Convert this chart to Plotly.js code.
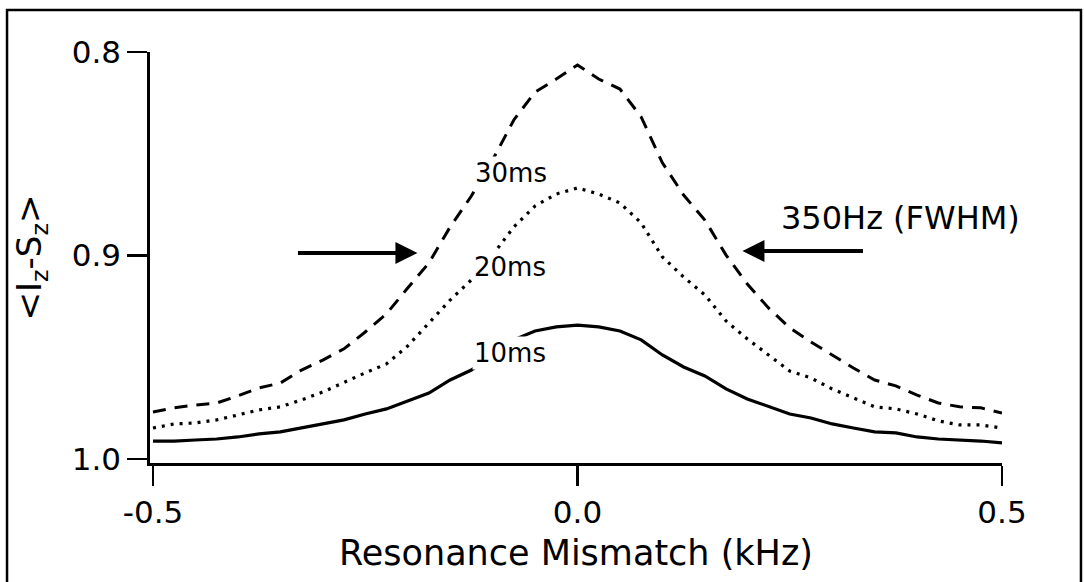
<!DOCTYPE html>
<html>
<head>
<meta charset="utf-8">
<script src="https://cdn.plot.ly/plotly-3.0.1.min.js"></script>
<style>
  html, body { margin: 0; padding: 0; background: #ffffff; }
  #chart { width: 1084px; height: 582px; }
</style>
</head>
<body>
<div id="chart"></div>
<script>
// Detuning from the resonance condition, kHz
const mismatch = [
  -0.5, -0.475, -0.45, -0.425, -0.4, -0.375, -0.35, -0.325, -0.3, -0.275,
  -0.25, -0.225, -0.2, -0.175, -0.15, -0.125, -0.1, -0.075, -0.05, -0.025,
  0.0,
  0.025, 0.05, 0.075, 0.1, 0.125, 0.15, 0.175, 0.2, 0.225, 0.25,
  0.275, 0.3, 0.325, 0.35, 0.375, 0.4, 0.425, 0.45, 0.475, 0.5
];

// <Iz-Sz> after 10 ms of contact
const signal10ms = [
  0.9912, 0.9912, 0.9907, 0.9902, 0.9892, 0.9877, 0.9867, 0.9848, 0.9828, 0.9808,
  0.9779, 0.9754, 0.9715, 0.9676, 0.9612, 0.9563, 0.9489, 0.9415, 0.9371, 0.9351,
  0.9342,
  0.9351, 0.9371, 0.9415, 0.9489, 0.9548, 0.9592, 0.9656, 0.9705, 0.9744, 0.9779,
  0.9799, 0.9828, 0.9848, 0.9867, 0.9872, 0.9892, 0.9902, 0.9907, 0.9912, 0.9921
];

// <Iz-Sz> after 20 ms of contact
const signal20ms = [
  0.9848, 0.9828, 0.9823, 0.9808, 0.9784, 0.9759, 0.9744, 0.9710, 0.9671, 0.9622,
  0.9577, 0.9533, 0.9445, 0.9332, 0.9219, 0.9120, 0.8998, 0.8860, 0.8757, 0.8698,
  0.8668,
  0.8698, 0.8742, 0.8840, 0.9007, 0.9106, 0.9194, 0.9322, 0.9410, 0.9489, 0.9568,
  0.9602, 0.9656, 0.9700, 0.9744, 0.9754, 0.9779, 0.9813, 0.9833, 0.9833, 0.9848
];

// <Iz-Sz> after 30 ms of contact
const signal30ms = [
  0.9769, 0.9749, 0.9735, 0.9725, 0.9690, 0.9651, 0.9627, 0.9563, 0.9514, 0.9459,
  0.9376, 0.9287, 0.9160, 0.9037, 0.8860, 0.8708, 0.8531, 0.8334, 0.8197, 0.8133,
  0.8064,
  0.8133, 0.8182, 0.8319, 0.8545, 0.8703, 0.8826, 0.8998, 0.9140, 0.9258, 0.9356,
  0.9425, 0.9489, 0.9553, 0.9612, 0.9641, 0.9686, 0.9725, 0.9744, 0.9749, 0.9774
];

const yTickValues = [0.8, 0.9, 1.0];
const yTickLabels = ['0.8', '0.9', '1.0'];
const xTickValues = [-0.5, 0.0, 0.5];
const xTickLabels = ['-0.5', '0.0', '0.5'];

const FONT = 'DejaVu Sans, Verdana, sans-serif';

const traces = [
  {
    x: mismatch, y: signal30ms, name: '30ms', type: 'scatter', mode: 'lines',
    line: { color: '#000', width: 3, dash: '13px,9px' }
  },
  {
    x: mismatch, y: signal20ms, name: '20ms', type: 'scatter', mode: 'lines',
    line: { color: '#000', width: 3.2, dash: '3px,6px' }
  },
  {
    x: mismatch, y: signal10ms, name: '10ms', type: 'scatter', mode: 'lines',
    line: { color: '#000', width: 3.2 }
  }
];

function curveLabel(text, x, y) {
  return {
    text: text, x: x, y: y, xref: 'x', yref: 'y',
    showarrow: false, bgcolor: '#ffffff', borderpad: 1,
    font: { family: FONT, size: 26, color: '#000' }
  };
}

const layout = {
  width: 1084, height: 582,
  margin: { l: 150, r: 82, t: 52, b: 119 },
  paper_bgcolor: '#ffffff', plot_bgcolor: '#ffffff',
  showlegend: false,
  font: { family: FONT, color: '#000' },
  xaxis: {
    range: [-0.5035, 0.5],
    tickvals: xTickValues, ticktext: xTickLabels,
    ticks: 'outside', ticklen: 20, tickwidth: 2.8, tickcolor: '#000',
    showline: true, linewidth: 2.8, linecolor: '#000',
    showgrid: false, zeroline: false,
    tickfont: { family: FONT, size: 31, color: '#000' },
    title: { text: 'Resonance Mismatch (kHz)', font: { family: FONT, size: 35, color: '#000' }, standoff: 12 }
  },
  yaxis: {
    range: [1.002, 0.8],
    tickvals: yTickValues, ticktext: yTickLabels,
    ticks: 'outside', ticklen: 20, tickwidth: 2.8, tickcolor: '#000',
    showline: true, linewidth: 2.8, linecolor: '#000',
    showgrid: false, zeroline: false,
    tickfont: { family: FONT, size: 31, color: '#000' },
    title: { text: '&lt;I<sub>z</sub>-S<sub>z</sub>&gt;', font: { family: FONT, size: 34, color: '#000' }, standoff: 20 }
  },
  annotations: [
    curveLabel('30ms', -0.078, 0.8595),
    curveLabel('20ms', -0.080, 0.9055),
    curveLabel('10ms', -0.080, 0.9478),
    {
      text: '350Hz (FWHM)', x: 0.38, y: 0.8815, xref: 'x', yref: 'y',
      showarrow: false, font: { family: FONT, size: 32, color: '#000' }
    },
    {
      text: '', x: -0.1885, y: 0.8988, xref: 'x', yref: 'y',
      showarrow: true, ax: -121, ay: 0, arrowhead: 2, arrowsize: 1.1, arrowwidth: 4, arrowcolor: '#000'
    },
    {
      text: '', x: 0.1943, y: 0.8978, xref: 'x', yref: 'y',
      showarrow: true, ax: 122, ay: 0, arrowhead: 2, arrowsize: 1.1, arrowwidth: 4, arrowcolor: '#000'
    }
  ],
  shapes: [
    {
      type: 'rect', xref: 'paper', yref: 'paper',
      x0: -0.1678, x1: 1.0927, y0: -0.3333, y1: 1.1022,
      line: { color: '#000', width: 2.5 }, fillcolor: 'rgba(0,0,0,0)', layer: 'below'
    }
  ]
};

Plotly.newPlot('chart', traces, layout, { staticPlot: true, displayModeBar: false });
</script>
</body>
</html>
